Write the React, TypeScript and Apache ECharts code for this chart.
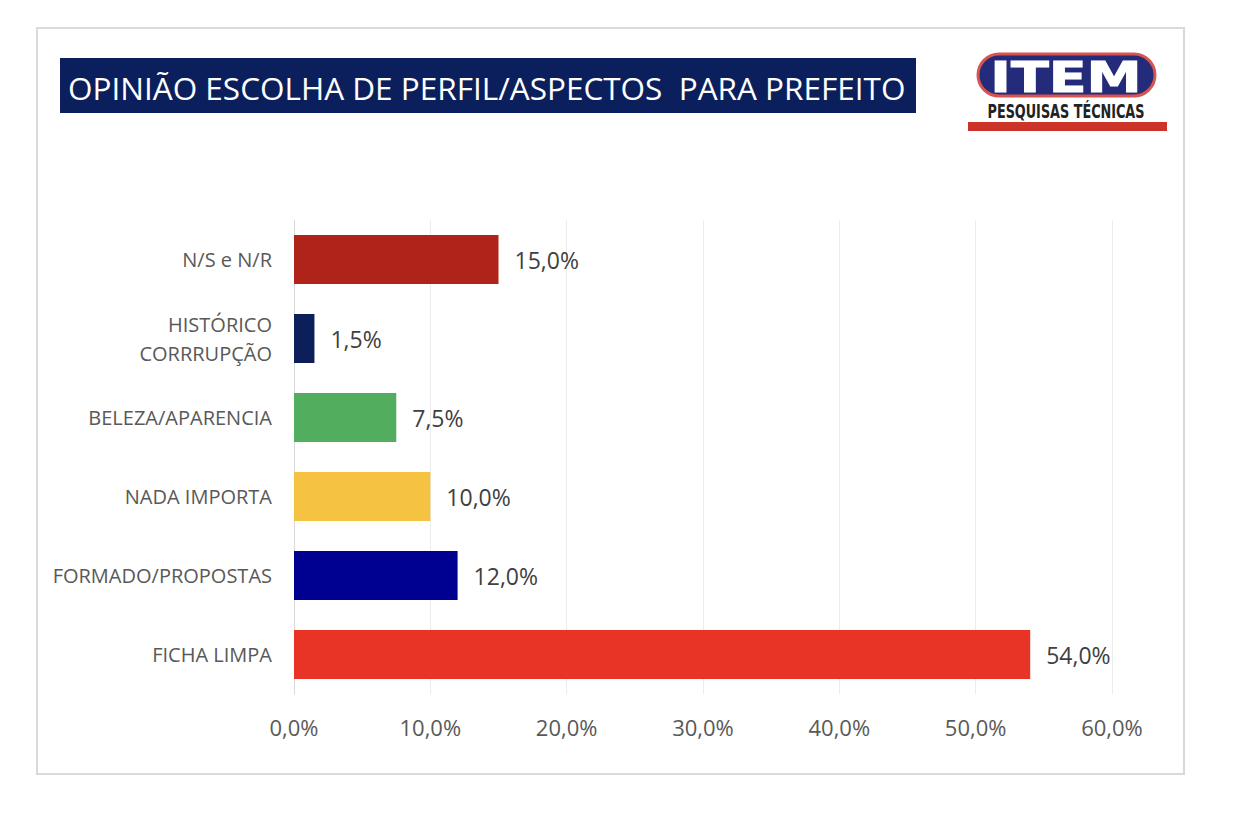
import React, { useEffect, useRef } from "react";
import * as echarts from "echarts";

const categories = [
  "N/S e N/R",
  "HISTÓRICO\nCORRRUPÇÃO",
  "BELEZA/APARENCIA",
  "NADA IMPORTA",
  "FORMADO/PROPOSTAS",
  "FICHA LIMPA",
];
const values = [15.0, 1.5, 7.5, 10.0, 12.0, 54.0];
const barColors = ["#b0231a", "#0c1f5b", "#52ae5e", "#f5c242", "#000091", "#e83427"];
const xTicks = [0, 10, 20, 30, 40, 50, 60];
const titleText = "OPINIÃO ESCOLHA DE PERFIL/ASPECTOS  PARA PREFEITO";

const fmt = (v: number) => v.toFixed(1).replace(".", ",") + "%";

export default function App() {
  const ref = useRef<HTMLDivElement>(null);
  useEffect(() => {
    if (!ref.current) return;
    const chart = echarts.init(ref.current, null, { renderer: "svg" });
    const font = "'Open Sans', sans-serif";
    chart.setOption({
      animation: false,
      backgroundColor: "#ffffff",
      grid: { left: 294, right: 136, top: 220, bottom: 126, containLabel: false },
      xAxis: {
        type: "value",
        min: xTicks[0],
        max: xTicks[xTicks.length - 1],
        interval: 10,
        axisLine: { show: false },
        axisTick: { show: false },
        splitLine: { show: true, lineStyle: { color: "#ececec", width: 1 } },
        axisLabel: {
          margin: 22,
          color: "#595959",
          fontSize: 22,
          fontFamily: font,
          formatter: (v: number) => fmt(v),
        },
      },
      yAxis: {
        type: "category",
        data: categories,
        inverse: true,
        axisLine: { show: true, lineStyle: { color: "#d9d9d9", width: 1 } },
        axisTick: { show: false },
        axisLabel: {
          margin: 22,
          color: "#595959",
          fontSize: 20,
          lineHeight: 29,
          fontFamily: font,
          align: "right",
        },
      },
      series: [
        {
          type: "bar",
          data: values.map((v, i) => ({ value: v, itemStyle: { color: barColors[i] } })),
          barWidth: 49,
          label: {
            show: true,
            position: "right",
            distance: 16,
            color: "#404040",
            fontSize: 23,
            fontFamily: font,
            formatter: (p: any) => fmt(p.value),
          },
        },
      ],
      graphic: [
        {
          type: "rect",
          shape: { x: 37, y: 28, width: 1147, height: 746 },
          style: { fill: "none", stroke: "#d9d9d9", lineWidth: 2 },
          silent: true,
        },
        {
          type: "rect",
          shape: { x: 60, y: 58, width: 856, height: 55 },
          style: { fill: "#0b1f5c" },
        },
        {
          type: "text",
          x: 68,
          y: 87,
          style: {
            text: titleText,
            fill: "#ffffff",
            fontSize: 31.5,
            fontFamily: font,
            verticalAlign: "middle",
            align: "left",
          },
        },
        // logo
        {
          type: "rect",
          shape: { x: 978, y: 54, width: 177, height: 42, r: 21 },
          style: { fill: "#232b7a", stroke: "#d9534f", lineWidth: 3 },
        },
        {
          type: "text",
          x: 1066,
          y: 77,
          scaleX: 1.32,
          style: {
            text: "ITEM",
            fill: "#ffffff",
            fontSize: 42,
            fontWeight: 900,
            fontFamily: "'DejaVu Sans', sans-serif",
            align: "center",
            verticalAlign: "middle",
            stroke: "#ffffff",
            lineWidth: 1,
          },
        },
        {
          type: "text",
          x: 1066,
          y: 111,
          scaleX: 0.64,
          style: {
            text: "PESQUISAS TÉCNICAS",
            fill: "#222222",
            fontSize: 20,
            fontWeight: "bold",
            fontFamily: "'DejaVu Sans', sans-serif",
            align: "center",
            verticalAlign: "middle",
          },
        },
        {
          type: "rect",
          shape: { x: 968, y: 122, width: 199, height: 9 },
          style: { fill: "#cc3329" },
        },
      ],
    });
    return () => chart.dispose();
  }, []);
  return (
    <div
      ref={ref}
      style={{ position: "fixed", left: 0, top: 0, width: 1248, height: 820 }}
    />
  );
}
